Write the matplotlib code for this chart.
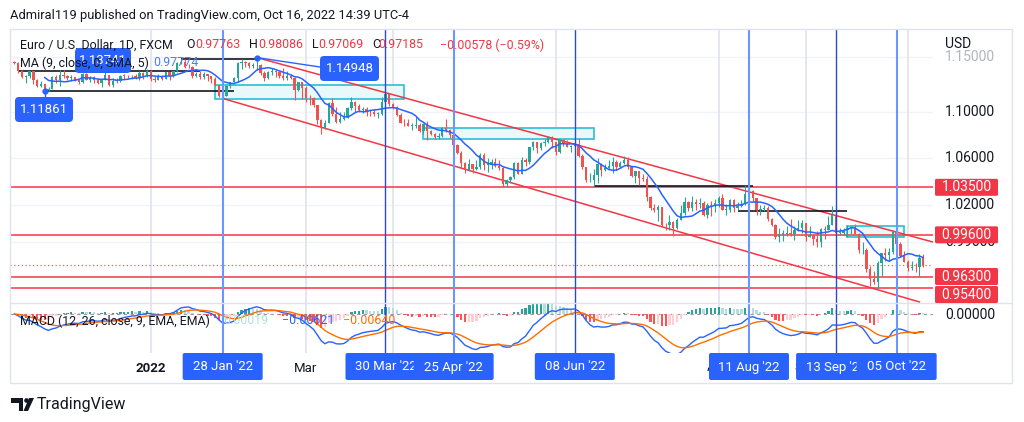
import numpy as np
import pandas as pd
import matplotlib
matplotlib.use("Agg")
import matplotlib.pyplot as plt
from matplotlib.patches import Rectangle, FancyBboxPatch, Polygon, Circle

plt.rcParams['font.family'] = ['Roboto', 'DejaVu Sans']

W, H = 1024, 422
GREEN, RED, BLUE, ORANGE = '#26a69a', '#ef5350', '#2962ff', '#ff6d00'
LEVEL_RED = '#f23645'
INK = '#131722'

# EUR/USD daily, FXCM, 12 Nov 2021 .. 14 Oct 2022 (one row per month)
first_open = 1.1447
closes = [
    1.1445, 1.1369, 1.1319, 1.1320, 1.1370, 1.1289, 1.1237, 1.1250, 1.1197, 1.1208, 1.1318, 1.1291, 1.1337,
    1.1320, 1.1305, 1.1315, 1.1284, 1.1268, 1.1343, 1.1290, 1.1316, 1.1285, 1.1258, 1.1290, 1.1330, 1.1240, 1.1282, 1.1281, 1.1329, 1.1328, 1.1320, 1.1327, 1.1310, 1.1350, 1.1324, 1.1370,
    1.1297, 1.1287, 1.1313, 1.1296, 1.1359, 1.1324, 1.1367, 1.1441, 1.1455, 1.1411, 1.1403, 1.1324, 1.1343, 1.1311, 1.1343, 1.1325, 1.1300, 1.1240, 1.1144, 1.1145, 1.1236,
    1.1272, 1.1303, 1.1440, 1.1454, 1.1440, 1.1415, 1.1424, 1.1426, 1.1349, 1.1306, 1.1358, 1.1373, 1.1362, 1.1322, 1.1307, 1.1327, 1.1309, 1.1196, 1.1270, 1.1219,
    1.1125, 1.1121, 1.1066, 1.0929, 1.0854, 1.0903, 1.1077, 1.0982, 1.0912, 1.0941, 1.0955, 1.1035, 1.1093, 1.1050, 1.1016, 1.1030, 1.1003, 1.0996, 1.0984, 1.0985, 1.1087, 1.1159, 1.1067,
    1.1046, 1.0970, 1.0904, 1.0900, 1.0877, 1.0877, 1.0886, 1.0828, 1.0890, 1.0828, 1.0810, 1.0779, 1.0786, 1.0854, 1.0837, 1.0797, 1.0714, 1.0641, 1.0557, 1.0497, 1.0545,
    1.0504, 1.0520, 1.0620, 1.0541, 1.0550, 1.0562, 1.0530, 1.0513, 1.0379, 1.0411, 1.0436, 1.0553, 1.0465, 1.0585, 1.0563, 1.0690, 1.0736, 1.0680, 1.0726, 1.0733, 1.0780, 1.0733,
    1.0646, 1.0750, 1.0719, 1.0697, 1.0700, 1.0717, 1.0616, 1.0518, 1.0408, 1.0414, 1.0450, 1.0550, 1.0496, 1.0510, 1.0533, 1.0567, 1.0522, 1.0553, 1.0582, 1.0519, 1.0443, 1.0484,
    1.0426, 1.0422, 1.0267, 1.0182, 1.0160, 1.0186, 1.0039, 1.0036, 1.0062, 1.0019, 1.0083, 1.0141, 1.0227, 1.0179, 1.0229, 1.0211, 1.0222, 1.0119, 1.0200, 1.0196, 1.0219,
    1.0260, 1.0166, 1.0166, 1.0247, 1.0182, 1.0196, 1.0211, 1.0298, 1.0320, 1.0259, 1.0160, 1.0170, 1.0180, 1.0088, 1.0037, 0.9943, 0.9968, 0.9969, 0.9973, 0.9966, 1.0003, 1.0017, 1.0054,
    0.9945, 0.9955, 0.9930, 0.9902, 1.0011, 1.0000, 1.0041, 1.0122, 0.9975, 0.9977, 0.9998, 1.0015, 1.0025, 0.9970, 0.9836, 0.9837, 0.9690, 0.9607, 0.9591, 0.9735, 0.9815, 0.9802,
    0.9826, 0.9986, 0.9885, 0.9792, 0.9742, 0.9700, 0.9706, 0.9703, 0.97763, 0.97185,
]
highs = [
    1.1464, 1.1450, 1.1382, 1.1333, 1.1374, 1.1374, 1.1295, 1.1275, 1.1256, 1.1228, 1.1325, 1.1334, 1.1383,
    1.1383, 1.1335, 1.1333, 1.1319, 1.1298, 1.1355, 1.1350, 1.1328, 1.1320, 1.1305, 1.1298, 1.1360, 1.1332, 1.1305, 1.1303, 1.1337, 1.1345, 1.1331, 1.1335, 1.1342, 1.1368, 1.1357, 1.1386,
    1.1376, 1.1323, 1.1346, 1.1332, 1.1365, 1.1365, 1.1373, 1.1453, 1.1482, 1.1483, 1.1435, 1.1412, 1.1362, 1.1369, 1.1363, 1.1343, 1.1328, 1.1311, 1.1244, 1.1175, 1.1240,
    1.1273, 1.1315, 1.1449, 1.1483, 1.1464, 1.1449, 1.1448, 1.14948, 1.1436, 1.1366, 1.1368, 1.1395, 1.1380, 1.1369, 1.1395, 1.1366, 1.1345, 1.1313, 1.1274, 1.1274,
    1.1234, 1.1156, 1.1138, 1.1066, 1.0935, 1.0933, 1.1087, 1.1121, 1.1044, 1.0996, 1.0997, 1.1043, 1.1137, 1.1097, 1.1071, 1.1045, 1.1041, 1.1028, 1.1022, 1.1002, 1.1138, 1.1185, 1.1171,
    1.1076, 1.1053, 1.0994, 1.0937, 1.0938, 1.0905, 1.0954, 1.0902, 1.0900, 1.0924, 1.0840, 1.0813, 1.0811, 1.0866, 1.0936, 1.0853, 1.0810, 1.0720, 1.0658, 1.0566, 1.0593,
    1.0550, 1.0578, 1.0641, 1.0642, 1.0599, 1.0593, 1.0595, 1.0577, 1.0522, 1.0420, 1.0442, 1.0562, 1.0565, 1.0603, 1.0598, 1.0695, 1.0748, 1.0737, 1.0734, 1.0765, 1.0787, 1.0786,
    1.0737, 1.0765, 1.0764, 1.0752, 1.0708, 1.0774, 1.0773, 1.0636, 1.0525, 1.0473, 1.0506, 1.0601, 1.0553, 1.0545, 1.0583, 1.0606, 1.0577, 1.0571, 1.0615, 1.0605, 1.0529, 1.0488,
    1.0486, 1.0463, 1.0449, 1.0276, 1.0215, 1.0201, 1.0176, 1.0057, 1.0121, 1.0073, 1.0097, 1.0200, 1.0269, 1.0232, 1.0278, 1.0254, 1.0258, 1.0237, 1.0223, 1.0234, 1.0254,
    1.0275, 1.0294, 1.0212, 1.0254, 1.0250, 1.0229, 1.0248, 1.0368, 1.0368, 1.0328, 1.0263, 1.0201, 1.0202, 1.0191, 1.0096, 1.0051, 1.0017, 0.9999, 1.0029, 1.0091, 1.0028, 1.0080, 1.0079,
    1.0055, 1.0033, 0.9955, 0.9988, 1.0012, 1.0030, 1.0113, 1.0198, 1.0198, 1.0019, 1.0017, 1.0037, 1.0032, 1.0051, 0.9976, 0.9906, 0.9852, 0.9709, 0.9671, 0.9750, 0.9817, 0.9854,
    0.9855, 0.9999, 0.9999, 0.9904, 0.9834, 0.9760, 0.9748, 0.9734, 0.9807, 0.98086,
]
lows = [
    1.1432, 1.1356, 1.1310, 1.1264, 1.1306, 1.1250, 1.1225, 1.1226, 1.11861, 1.1188, 1.1205, 1.1260, 1.1235,
    1.1307, 1.1292, 1.1277, 1.1275, 1.1254, 1.1262, 1.1284, 1.1270, 1.1260, 1.1250, 1.1222, 1.1287, 1.1234, 1.1222, 1.1265, 1.1270, 1.1300, 1.1310, 1.1301, 1.1301, 1.1286, 1.1300, 1.1318,
    1.1283, 1.1272, 1.1286, 1.1285, 1.1293, 1.1285, 1.1315, 1.1362, 1.1432, 1.1398, 1.1396, 1.1306, 1.1313, 1.1300, 1.1299, 1.1283, 1.1264, 1.1235, 1.1135, 1.1121, 1.1140,
    1.1211, 1.1267, 1.1267, 1.1387, 1.1408, 1.1400, 1.1401, 1.1375, 1.1338, 1.1280, 1.1297, 1.1334, 1.1314, 1.1303, 1.1286, 1.1288, 1.1301, 1.1106, 1.1188, 1.1120,
    1.1093, 1.1058, 1.1046, 1.0893, 1.0806, 1.0851, 1.0905, 1.0960, 1.0900, 1.0904, 1.0927, 1.0950, 1.1019, 1.1002, 1.1002, 1.0992, 1.0966, 1.0964, 1.0963, 1.0945, 1.0977, 1.1084, 1.1055,
    1.1027, 1.0968, 1.0898, 1.0873, 1.0874, 1.0837, 1.0862, 1.0822, 1.0810, 1.0757, 1.0800, 1.0758, 1.0766, 1.0783, 1.0825, 1.0772, 1.0697, 1.0633, 1.0514, 1.0471, 1.0488,
    1.0471, 1.0492, 1.0505, 1.0493, 1.0483, 1.0502, 1.0522, 1.0499, 1.0349, 1.0350, 1.0389, 1.0422, 1.0459, 1.0462, 1.0532, 1.0550, 1.0666, 1.0642, 1.0664, 1.0698, 1.0728, 1.0680,
    1.0627, 1.0641, 1.0701, 1.0690, 1.0654, 1.0680, 1.0611, 1.0508, 1.0398, 1.0397, 1.0359, 1.0382, 1.0444, 1.0486, 1.0508, 1.0469, 1.0500, 1.0512, 1.0548, 1.0506, 1.0436, 1.0383,
    1.0366, 1.0405, 1.0236, 1.0161, 1.0145, 1.0072, 1.0033, 0.9998, 0.9999, 0.9952, 1.0007, 1.0080, 1.0119, 1.0153, 1.0154, 1.0159, 1.0182, 1.0109, 1.0097, 1.0113, 1.0145,
    1.0189, 1.0162, 1.0123, 1.0145, 1.0142, 1.0160, 1.0186, 1.0202, 1.0275, 1.0224, 1.0122, 1.0123, 1.0150, 1.0073, 1.0033, 0.9926, 0.9900, 0.9910, 0.9949, 0.9949, 0.9915, 0.9994, 0.9976,
    0.9910, 0.9943, 0.9877, 0.9864, 0.9864, 0.9929, 0.9997, 1.0040, 0.9966, 0.9955, 0.9956, 0.9945, 0.9966, 0.9966, 0.9811, 0.9807, 0.9668, 0.9553, 0.9572, 0.9536, 0.9636, 0.9749,
    0.9750, 0.9807, 0.9836, 0.9786, 0.9740, 0.9671, 0.9683, 0.9668, 0.9632, 0.97069,
]

# drawings on the chart
levels = [1.035, 0.996, 0.963, 0.954]
level_labels = ['1.03500', '0.99600', '0.96300', '0.95400']
price_ticks = [1.15, 1.10, 1.06, 1.02, 0.99]
event_dates = ['2022-01-28', '2022-03-30', '2022-04-25', '2022-06-08', '2022-08-11', '2022-09-13', '2022-10-05']
event_labels = ["28 Jan '22", "30 Mar '22", "25 Apr '22", "08 Jun '22", "11 Aug '22", "13 Sep '22", "05 Oct '22"]
event_dark = [False, True, False, True, False, True, False]
grid_dates = ['2022-01-03', '2022-03-01', '2022-04-01', '2022-06-01', '2022-08-01', '2022-09-01', '2022-10-10']
month_dates = ['2022-01-03', '2022-03-01', '2022-08-01', '2022-09-01']
month_labels = ['2022', 'Mar', 'Aug', 'Sep']
hlines_black = [(1.13741, '2021-11-15', '2022-01-20'), (1.11861, '2021-11-24', '2022-02-02'),
                (1.1482, '2022-01-13', '2022-02-10'), (1.0359, '2022-06-15', '2022-08-12'),
                (1.0156, '2022-08-08', '2022-09-16')]
boxes = [('2022-01-26', '2022-04-06', 1.1113, 1.1243), ('2022-04-13', '2022-06-15', 1.0762, 1.0858),
         ('2022-09-16', '2022-10-07', 0.9940, 1.0034)]
channel_upper = [('2022-02-10', 1.14948), (None, 0.9902)]
channel_lower = [('2022-01-28', 1.1121), ('2022-10-13', 0.9434)]

dates = pd.bdate_range('2021-11-12', periods=len(closes))
x = np.arange(len(closes))
o = np.array([first_open] + closes[:-1])
c = np.array(closes)
hi = np.array(highs)
lo = np.array(lows)
XR = 242.6


def xi(d):
    if d is None:
        return XR
    return dates.get_loc(pd.Timestamp(d))


fig = plt.figure(figsize=(W / 100, H / 100), dpi=100)
fig.patch.set_facecolor('white')
ax = fig.add_axes([10 / W, 1 - 303 / H, 923 / W, 274 / H])
mx = fig.add_axes([10 / W, 1 - 353 / H, 923 / W, 50 / H])
for a in (ax, mx):
    a.set_xlim(-1.17, XR)
    a.set_xticks([])
    a.set_yticks([])
    for s in a.spines.values():
        s.set_visible(False)
ax.set_yscale('log')
ax.set_ylim(0.9426, 1.1763)
ax.minorticks_off()
ax.set_yticks([])

# grid
for p in price_ticks:
    ax.axhline(p, color='#f0f3fa', lw=1, zorder=0)
for d in grid_dates:
    ax.axvline(xi(d), color='#e0e3eb', lw=1.2, zorder=0)
    mx.axvline(xi(d), color='#e0e3eb', lw=1.2, zorder=0)

# rectangles
for d0, d1, p0, p1 in boxes:
    ax.add_patch(Rectangle((xi(d0), p0), xi(d1) - xi(d0), p1 - p0, fc='#e8f8fb', ec='#2bbfd0', lw=1.2, zorder=1))

# level lines, channel
for lv in levels:
    ax.axhline(lv, color=LEVEL_RED, lw=1.1, zorder=2)
ax.axhline(closes[-1], color=LEVEL_RED, lw=0.9, ls=(0, (1, 2)), alpha=0.8, zorder=2)
for ch in (channel_upper, channel_lower):
    ax.plot([xi(ch[0][0]), xi(ch[1][0])], [ch[0][1], ch[1][1]], color=LEVEL_RED, lw=1.1, zorder=2)
for p, d0, d1 in hlines_black:
    ax.hlines(p, xi(d0), xi(d1), color=INK, lw=1.2, zorder=3)

# candles
col = np.where(c >= o, GREEN, RED)
ax.vlines(x, lo, hi, colors=col, lw=0.8, zorder=4)
ax.bar(x, np.maximum(np.abs(c - o), 0.0004), bottom=np.minimum(o, c), width=0.62, color=col, lw=0, zorder=5)

ma = pd.Series(closes).rolling(9).mean()
ax.plot(x, ma, color=BLUE, lw=1.1, zorder=6)
ax.plot([xi('2021-11-24'), xi('2022-02-10')], [1.11861, 1.14948], 'o', ms=3.5, color=BLUE, zorder=7)

# event lines
for d, dark in zip(event_dates, event_dark):
    for a in (ax, mx):
        a.axvline(xi(d), color='#2a4bd0' if dark else '#6b95ff', lw=1.0 if dark else 1.5, zorder=8)

# MACD
s = pd.Series(closes)
macd = s.ewm(span=12, adjust=False).mean() - s.ewm(span=26, adjust=False).mean()
signal = macd.ewm(span=9, adjust=False).mean()
hist = (macd - signal).values
hcol = []
for i, h in enumerate(hist):
    prev = hist[i - 1] if i > 0 else 0
    if h >= 0:
        hcol.append('#26a69a' if h > prev else '#b2dfdb')
    else:
        hcol.append('#ff5252' if h < prev else '#ffcdd2')
mx.axhline(0, color='#9598a1', lw=0.8, ls=(0, (3, 3)), zorder=1)
mx.bar(x, hist, width=0.6, color=hcol, lw=0, zorder=2)
mx.plot(x, macd, color=BLUE, lw=1.0, zorder=3)
mx.plot(x, signal, color=ORANGE, lw=1.0, zorder=3)
mx.set_ylim(-0.01365, 0.00385)

# overlay in pixel space
ov = fig.add_axes([0, 0, 1, 1], zorder=5)
ov.set_xlim(0, W)
ov.set_ylim(H, 0)
ov.axis('off')
ov.patch.set_alpha(0)


def px(a, xv, yv):
    dx, dy = a.transData.transform((xv, yv))
    return dx, H - dy


ov.add_patch(Rectangle((10, 29), 1002, 354, fc='none', ec='#e0e3eb', lw=1))
ov.plot([10, 1012], [303, 303], color='#e0e3eb', lw=1)

# price axis
ov.text(945, 44, 'USD', fontsize=10, color=INK, va='center', zorder=3)
for p in price_ticks:
    yy = px(ax, 0, p)[1]
    ov.text(945, yy, f'{p:.5f}', fontsize=10, color='#b2b5be' if p == 1.15 else INK, va='center', zorder=3)
ov.text(945, px(mx, 0, 0)[1] + 1, '0.00000', fontsize=10, color=INK, va='center', zorder=3)
prev_bottom = 0
for lv, lab in zip(levels, level_labels):
    yy = px(ax, 0, lv)[1]
    yy = max(yy, prev_bottom + 9.5)
    ov.add_patch(FancyBboxPatch((935, yy - 8.5), 63, 17, boxstyle='round,pad=0,rounding_size=1.5',
                                fc=LEVEL_RED, ec='none', zorder=4))
    ov.text(966.5, yy, lab, fontsize=10, color='white', ha='center', va='center', zorder=5)
    prev_bottom = yy + 8.5

# time axis
for d, lab in zip(month_dates, month_labels):
    ov.text(px(ax, xi(d), 1)[0], 368, lab, fontsize=9.5, color=INK, ha='center', va='center', zorder=1,
            fontweight='bold' if lab == '2022' else 'normal')
for k, (d, lab) in enumerate(zip(event_dates, event_labels)):
    cx = px(ax, xi(d), 1)[0]
    ov.add_patch(FancyBboxPatch((cx - 40, 353), 80, 27, boxstyle='round,pad=0,rounding_size=2',
                                fc=BLUE, ec='none', zorder=6 + 2 * k))
    ov.text(cx, 367, lab, fontsize=9.5, color='white', ha='center', va='center', zorder=7 + 2 * k)

# price callouts
x1, y1 = px(ax, xi('2021-11-24'), 1.11861)
ov.plot([x1, x1], [y1, 97], color=BLUE, lw=1)
x2, y2 = px(ax, xi('2022-02-10'), 1.14948)
ov.plot([x2, 320], [y2, 67], color=BLUE, lw=1)
for bx, by, bw, lab in [(75, 48, 56, '1.13741'), (15, 97, 58, '1.11861'), (320, 56, 59, '1.14948')]:
    ov.add_patch(FancyBboxPatch((bx, by), bw, 25, boxstyle='round,pad=0,rounding_size=4', fc=BLUE, ec='none', zorder=1))
    ov.text(bx + bw / 2, by + 12.5, lab, fontsize=9.5, color='white', ha='center', va='center', zorder=2)

# legends
ov.text(10, 15, 'Admiral119 published on TradingView.com, Oct 16, 2022 14:39 UTC-4', fontsize=9.3, color=INK, va='center')
leg1 = [(20, 'Euro / U.S. Dollar, 1D, FXCM', INK), (186, 'O', INK), (195, '0.97763', LEVEL_RED),
        (249, 'H', INK), (258, '0.98086', LEVEL_RED), (312, 'L', INK), (318, '0.97069', LEVEL_RED),
        (372, 'C', INK), (378, '0.97185', LEVEL_RED), (440, '\u22120.00578 (\u22120.59%)', LEVEL_RED)]
for tx, t, cl in leg1:
    ov.text(tx, 45, t, fontsize=8.9, color=cl, va='center', zorder=3)
ov.text(20, 63, 'MA (9, close, 0, SMA, 5)', fontsize=8.9, color=INK, va='center', zorder=3)
ov.text(153, 63, '0.97774', fontsize=8.9, color='#4a7dff', va='center', zorder=3)
ov.text(20, 321, 'MACD (12, 26, close, 9, EMA, EMA)', fontsize=8.9, color=INK, va='center', zorder=3)
ov.text(223, 321, '0.00019', fontsize=8.9, color='#b2dfdb', va='center', zorder=3)
ov.text(282, 321, '\u22120.00621', fontsize=8.9, color=BLUE, va='center', zorder=3)
ov.text(343, 321, '\u22120.00640', fontsize=8.9, color=ORANGE, va='center', zorder=3)

# TradingView logo
ov.add_patch(Polygon([(11, 398), (23, 398), (23, 411), (18.5, 411), (18.5, 402.5), (11, 402.5)], fc=INK, ec='none'))
ov.add_patch(Circle((26.5, 400.5), 2.3, fc=INK, ec='none'))
ov.add_patch(Polygon([(29, 398), (34, 398), (28, 411), (23.5, 411)], fc=INK, ec='none'))
ov.text(37, 405, 'TradingView', fontsize=11.5, color=INK, va='center')

fig.savefig('out.png', dpi=100)
